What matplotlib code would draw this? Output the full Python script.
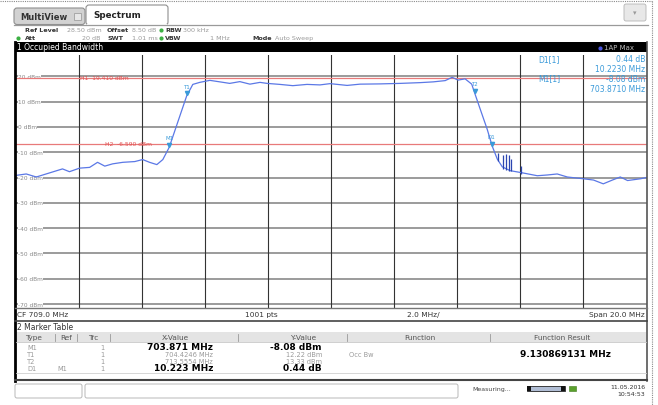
import matplotlib.pyplot as plt
from matplotlib.patches import Rectangle, FancyBboxPatch

plt.rcParams['font.family'] = ['DejaVu Sans']

W, H = 658, 406

# trace (MHz, dBm)
freq_mhz = [699.00, 699.34, 699.66, 699.97, 700.49, 700.71, 701.03, 701.35, 701.60,
            701.83, 702.08, 702.40, 702.78, 703.03, 703.25, 703.48, 703.67, 703.871,
            704.4246, 704.62, 704.84, 705.16, 705.48, 705.79, 706.11, 706.43, 706.75,
            706.97, 707.38, 707.79, 708.24, 708.65, 708.97, 709.51, 709.92, 710.56,
            711.19, 711.83, 712.24, 712.62, 712.84, 713.03, 713.25, 713.46, 713.5554,
            713.73, 713.95, 714.11, 714.27, 714.43, 714.68, 715.00, 715.54, 715.86,
            716.17, 716.49, 717.00, 717.32, 717.63, 717.92, 718.17, 718.40, 718.81, 719.00]
level_dbm = [-19.2, -18.6, -19.8, -18.6, -16.6, -17.7, -16.3, -16.0, -14.0,
             -15.5, -14.6, -14.0, -13.7, -12.9, -14.0, -14.9, -12.9, -8.08,
             12.22, 16.8, 17.6, 18.4, 17.8, 17.2, 17.9, 16.9, 17.6,
             17.2, 16.8, 16.3, 16.8, 16.6, 17.1, 16.4, 16.9, 17.0,
             17.2, 17.5, 17.8, 18.3, 19.6, 18.5, 19.0, 16.9, 13.33,
             7.0, -0.9, -7.6, -12.7, -15.8, -17.3, -18.0, -19.3, -19.0,
             -18.6, -19.8, -20.5, -21.0, -22.5, -21.0, -19.8, -21.2, -20.5, -20.0]

# short spikes on the lower skirt
spike_freq = [714.30, 714.45, 714.55, 714.65, 714.72, 715.02]
spike_top = [-10.5, -11.0, -10.8, -11.2, -12.5, -15.5]
spike_base = [-13.5, -16.5, -17.0, -17.5, -17.5, -18.5]

marker_names = ['M1', 'T1', 'T2', 'D1']
marker_freq = [703.871, 704.4246, 713.5554, 714.094]
marker_level = [-8.08, 12.22, 13.33, -7.64]

h_names = ['H1', 'H2']
h_levels = [19.41, -6.59]
h_label_freq = [701.05, 701.85]

grid_db = list(range(20, -80, -10))
grid_mhz = list(range(701, 719, 2))

TRACE = '#5b78e6'
MARK = '#3a9ad9'
HLINE = '#e87a7a'

fig = plt.figure(figsize=(6.58, 4.06), dpi=100)
fig.patch.set_facecolor('white')

# plot area in pixels
pl, pr, pt, pb = 15.5, 646.5, 55.8, 308.8
ax = fig.add_axes([pl / W, 1 - pb / H, (pr - pl) / W, (pb - pt) / H], zorder=1)
ax.set_xlim(699, 719)
ax.set_ylim(-71.5, 28.5)
for s in ax.spines.values():
    s.set_visible(False)
ax.set_xticks([])
ax.set_yticks([])

for v in grid_db:
    ax.axhline(v, color='#808080', lw=1.1, zorder=1)
    ax.text(699.08, v, '%d dBm' % v, fontsize=4.2, color='#8a8a8a', ha='left', va='center',
            bbox=dict(fc='white', ec='none', pad=0.2), zorder=2)
for f in grid_mhz:
    ax.axvline(f, color='#333333', lw=0.8, zorder=1)

for name, lv, lf in zip(h_names, h_levels, h_label_freq):
    ax.axhline(lv, color=HLINE, lw=0.9, zorder=3)
    ax.text(lf, lv, '%s  %.3f dBm' % (name, lv), fontsize=4.3, color='#e05050',
            ha='left', va='center', zorder=4)

ax.plot(freq_mhz, level_dbm, color=TRACE, lw=0.9, zorder=5)
ax.vlines(spike_freq, spike_base, spike_top, color='#2c46b0', lw=0.9, zorder=5)

for name, f, lv in zip(marker_names, marker_freq, marker_level):
    ax.plot(f, lv + 1.0, marker='v', ms=3, color=MARK, zorder=6)
    ax.annotate(name, (f, lv), xytext=(0, 5), textcoords='offset points',
                fontsize=4, color=MARK, ha='center', va='bottom', zorder=6)

# marker info block, top right
info = [('D1[1]', '0.44 dB', 60), ('', '10.2230 MHz', 69),
        ('M1[1]', '-8.08 dBm', 79), ('', '703.8710 MHz', 89)]

# ---- screen furniture, drawn in pixel coordinates on top ----
ui = fig.add_axes([0, 0, 1, 1], zorder=2)
ui.set_xlim(0, W)
ui.set_ylim(H, 0)
ui.axis('off')
ui.patch.set_visible(False)

# dotted outer border
ui.plot([0, 652], [1.5, 1.5], color='#8a8a8a', lw=0.8, ls=(0, (1, 1)))
ui.plot([652, 652], [1.5, 406], color='#8a8a8a', lw=0.8, ls=(0, (1, 1)))

# tabs
ui.plot([14, 648], [25.5, 25.5], color='#9a9a9a', lw=0.9)
ui.add_patch(FancyBboxPatch((14, 9), 71, 16.5, boxstyle='round,pad=0,rounding_size=3',
                            fc='#d2d2d2', ec='#8f8f8f', lw=0.8))
ui.text(20, 17.5, 'MultiView', fontsize=6, fontweight='bold', color='#333333', va='center')
ui.add_patch(Rectangle((74, 13.5), 7, 7, fc='#e6e6e6', ec='#a0a0a0', lw=0.6))
ui.add_patch(FancyBboxPatch((86, 6), 82, 20, boxstyle='round,pad=0,rounding_size=3',
                            fc='white', ec='#8f8f8f', lw=0.8))
ui.add_patch(Rectangle((86.6, 24.5), 80.8, 2.5, fc='white', ec='none'))
ui.text(93, 15.5, 'Spectrum', fontsize=6.3, fontweight='bold', color='#222222', va='center')
ui.add_patch(FancyBboxPatch((624, 5), 22, 17, boxstyle='round,pad=0,rounding_size=2',
                            fc='#e8e8e8', ec='#b4b4b4', lw=0.6))
ui.text(635, 13.5, '▾', fontsize=5, color='#999999', ha='center', va='center')

# settings rows
lab = dict(fontsize=4.6, color='#333333', fontweight='bold', va='center')
val = dict(fontsize=4.6, color='#9a9a9a', va='center')
ui.text(25, 31, 'Ref Level', **lab)
ui.text(67, 31, '28.50 dBm', **val)
ui.text(107, 31, 'Offset', **lab)
ui.text(132, 31, '8.50 dB', **val)
ui.text(165, 31, 'RBW', **lab)
ui.text(183, 31, '300 kHz', **val)
ui.text(25, 38.5, 'Att', **lab)
ui.text(100, 38.5, '20 dB', ha='right', **val)
ui.text(107, 38.5, 'SWT', **lab)
ui.text(132, 38.5, '1.01 ms', **val)
ui.text(165, 38.5, 'VBW', **lab)
ui.text(230, 38.5, '1 MHz', ha='right', **val)
ui.text(252, 38.5, 'Mode', **lab)
ui.text(275, 38.5, 'Auto Sweep', **val)
for x, y in [(161, 31), (18, 38.5), (161, 38.5)]:
    ui.plot(x, y, 'o', ms=2, color='#3cb043')

# title bar
ui.add_patch(Rectangle((15, 43), 632, 10, fc='black', ec='none'))
ui.text(17, 48, '1 Occupied Bandwidth', fontsize=5.5, color='white', va='center')
ui.plot(600, 48.5, 'o', ms=2, color='#4a55e0')
ui.text(604, 48.5, '1AP Max', fontsize=5, color='#bbbbbb', va='center')

for left, right, y in info:
    if left:
        ui.text(538, y, left, fontsize=5.5, color=MARK, va='center')
    ui.text(645, y, right, fontsize=5.5, color=MARK, va='center', ha='right')

# panel borders
ui.plot([15, 15], [43, 382], color='black', lw=2)
ui.plot([647, 647], [43, 382], color='#555555', lw=1.2)
ui.plot([15, 647], [309, 309], color='#777777', lw=1)

# frequency axis row
cf = dict(fontsize=5.3, color='#333333', va='center')
ui.text(17, 315.5, 'CF 709.0 MHz', **cf)
ui.text(245, 315.5, '1001 pts', **cf)
ui.text(407, 315.5, '2.0 MHz/', **cf)
ui.text(645, 315.5, 'Span 20.0 MHz', ha='right', **cf)
ui.plot([15, 647], [321.5, 321.5], color='#444444', lw=1.2)

# marker table
ui.text(17, 328, '2 Marker Table', fontsize=5.5, color='#333333', va='center')
ui.add_patch(Rectangle((16, 333), 630, 10, fc='#e4e4e4', ec='none'))
ui.plot([16, 646], [343, 343], color='#c8c8c8', lw=0.6)
hd = dict(fontsize=5.3, color='#555555', va='center')
ui.text(25, 338.3, 'Type', **hd)
ui.text(60, 338.3, 'Ref', **hd)
ui.text(88, 338.3, 'Trc', **hd)
ui.text(175, 338.3, 'X-Value', ha='center', **hd)
ui.text(303, 338.3, 'Y-Value', ha='center', **hd)
ui.text(420, 338.3, 'Function', ha='center', **hd)
ui.text(562, 338.3, 'Function Result', ha='center', **hd)
for x in [55, 77, 110, 238, 347, 490]:
    ui.plot([x, x], [334.5, 341.5], color='#999999', lw=0.6)

row_y = [348, 355, 362, 369]
row_type = ['M1', 'T1', 'T2', 'D1']
row_ref = ['', '', '', 'M1']
row_x = ['703.871 MHz', '704.4246 MHz', '713.5554 MHz', '10.223 MHz']
row_yv = ['-8.08 dBm', '12.22 dBm', '13.33 dBm', '0.44 dB']
row_bold = [True, False, False, True]
gray = dict(fontsize=4.8, color='#9a9a9a', va='center')
for y, t, r, xv, yv, b in zip(row_y, row_type, row_ref, row_x, row_yv, row_bold):
    ui.text(27, y, t, **gray)
    if r:
        ui.text(57, y, r, **gray)
    ui.text(100, y, '1', **gray)
    if b:
        big = dict(fontsize=6.5, fontweight='bold', color='black', va='center')
        ui.text(213, y, xv, ha='right', **big)
        ui.text(322, y, yv, ha='right', **big)
    else:
        ui.text(213, y, xv, ha='right', **gray)
        ui.text(322, y, yv, ha='right', **gray)
ui.text(349, 355, 'Occ Bw', **gray)
ui.text(565, 355, '9.130869131 MHz', fontsize=6.5, fontweight='bold', color='black',
        ha='center', va='center')
ui.plot([16, 646], [373.5, 373.5], color='#d0d0d0', lw=0.6)
ui.plot([15, 647], [380.5, 380.5], color='#444444', lw=1.5)

# status bar
ui.add_patch(FancyBboxPatch((15, 385), 67, 14, boxstyle='round,pad=0,rounding_size=2',
                            fc='white', ec='#b8b8b8', lw=0.7))
ui.add_patch(FancyBboxPatch((85, 385), 373, 14, boxstyle='round,pad=0,rounding_size=2',
                            fc='white', ec='#b8b8b8', lw=0.7))
ui.text(472, 389.5, 'Measuring...', fontsize=4.5, color='#444444', va='center')
ui.add_patch(Rectangle((527, 386.5), 38, 5.5, fc='#b0bdd4', ec='#222222', lw=0.6))
ui.add_patch(Rectangle((527, 386.5), 4, 5.5, fc='#111111', ec='none'))
ui.add_patch(Rectangle((561, 386.5), 4, 5.5, fc='#111111', ec='none'))
ui.add_patch(Rectangle((569, 386.5), 7, 5, fc='#5aa02c', ec='#3d7a1a', lw=0.4))
ui.text(645, 388, '11.05.2016', fontsize=4.5, color='#333333', ha='right', va='center')
ui.text(645, 395, '10:54:53', fontsize=4.5, color='#333333', ha='right', va='center')

fig.savefig('out.png', dpi=100)
